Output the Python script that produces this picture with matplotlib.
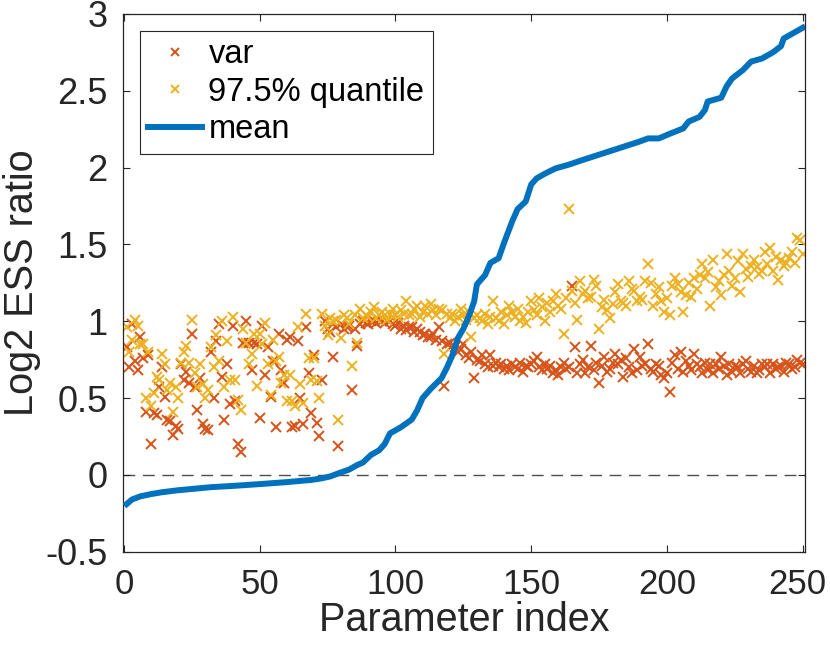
import matplotlib
matplotlib.use("Agg")
import matplotlib.pyplot as plt
import matplotlib.transforms as mtransforms
import numpy as np

plt.rcParams['font.family'] = ['Liberation Sans', 'DejaVu Sans']

# parameter index 1..250 (sorted by the mean ratio)
idx = np.arange(1, 251)

# log2 ESS ratio of the variance
var_ratio = [
    0.83, 0.70, 0.98, 0.74, 0.68, 0.90, 0.76, 0.41, 0.78, 0.20,
    0.40, 0.39, 0.57, 0.70, 0.51, 0.36, 0.35, 0.26, 0.32, 0.30,
    0.72, 0.62, 0.67, 0.60, 0.92, 0.57, 0.42, 0.63, 0.33, 0.30,
    0.29, 0.80, 0.50, 0.87, 0.98, 0.64, 0.36, 0.72, 0.46, 0.97,
    0.48, 0.20, 0.15, 0.86, 1.00, 0.86, 0.68, 0.86, 0.85, 0.37,
    0.97, 0.65, 0.83, 0.51, 0.74, 0.31, 0.92, 0.68, 0.60, 0.88,
    0.90, 0.31, 0.32, 0.87, 0.50, 0.33, 0.96, 0.66, 0.40, 0.78,
    0.34, 0.25, 0.62, 1.00, 0.95, 0.93, 0.77, 0.96, 0.19, 0.98,
    0.95, 0.96, 0.97, 0.55, 0.95, 0.84, 0.98, 1.00, 0.99, 0.98,
    1.00, 1.00, 0.99, 1.01, 1.00, 0.99, 1.01, 1.00, 0.98, 0.97,
    0.99, 0.95, 0.97, 0.94, 0.96, 0.96, 0.93, 0.95, 0.93, 0.91,
    0.92, 0.90, 0.90, 0.92, 0.88, 0.96, 0.87, 0.58, 0.85, 0.86,
    0.84, 0.83, 0.80, 0.82, 0.85, 0.78, 0.76, 0.80, 0.63, 0.75,
    0.74, 0.78, 0.72, 0.70, 0.78, 0.71, 0.73, 0.70, 0.72, 0.69,
    0.71, 0.68, 0.72, 0.70, 0.69, 0.73, 0.67, 0.71, 0.70, 0.72,
    0.74, 0.77, 0.70, 0.68, 0.72, 0.69, 0.71, 0.66, 0.68, 0.65,
    0.70, 0.73, 0.69, 0.70, 1.23, 0.83, 0.66, 0.72, 0.75, 0.66,
    0.70, 0.84, 0.68, 0.73, 0.60, 0.71, 0.77, 0.67, 0.69, 0.73,
    0.79, 0.72, 0.75, 0.64, 0.76, 0.70, 0.66, 0.82, 0.68, 0.77,
    0.71, 0.72, 0.85, 0.69, 0.67, 0.72, 0.71, 0.65, 0.63, 0.66,
    0.54, 0.73, 0.78, 0.69, 0.80, 0.67, 0.74, 0.71, 0.68, 0.79,
    0.72, 0.70, 0.66, 0.73, 0.68, 0.72, 0.66, 0.72, 0.69, 0.77,
    0.71, 0.65, 0.72, 0.67, 0.71, 0.70, 0.66, 0.72, 0.74, 0.69,
    0.67, 0.71, 0.66, 0.68, 0.72, 0.70, 0.72, 0.66, 0.72, 0.69,
    0.70, 0.71, 0.67, 0.73, 0.72, 0.69, 0.70, 0.75, 0.73, 0.72,
]

# log2 ESS ratio of the 97.5% quantile
q975_ratio = [
    0.96, 0.80, 0.88, 1.01, 0.97, 0.85, 0.85, 0.50, 0.80, 0.45,
    0.53, 0.64, 0.62, 0.79, 0.72, 0.55, 0.60, 0.41, 0.57, 0.50,
    0.73, 0.80, 0.84, 0.73, 1.01, 0.66, 0.57, 0.72, 0.59, 0.50,
    0.55, 0.83, 0.70, 0.91, 0.74, 1.00, 0.57, 0.87, 0.62, 1.03,
    0.62, 0.49, 0.42, 0.95, 0.86, 0.72, 0.79, 0.92, 0.58, 0.92,
    0.85, 0.99, 0.72, 0.52, 0.88, 0.74, 0.77, 0.60, 0.65, 0.48,
    0.65, 0.48, 0.45, 0.96, 0.59, 0.47, 1.05, 0.76, 0.62, 0.76,
    0.61, 0.50, 1.05, 0.97, 0.91, 1.02, 1.00, 1.01, 0.36, 0.89,
    1.04, 1.02, 0.98, 0.71, 1.04, 0.86, 1.08, 1.02, 1.04, 1.03,
    1.06, 1.09, 1.02, 1.04, 1.06, 1.04, 1.01, 1.05, 1.08, 1.04,
    1.03, 1.07, 1.05, 1.13, 1.04, 1.05, 1.08, 1.10, 1.03, 1.06,
    1.10, 1.05, 1.11, 1.07, 1.04, 1.08, 1.07, 0.79, 1.05, 1.02,
    1.05, 1.00, 1.03, 1.08, 1.04, 1.01, 1.06, 0.90, 1.02, 1.04,
    1.02, 1.00, 1.05, 0.98, 1.03, 1.13, 1.02, 1.00, 1.06, 0.98,
    1.04, 1.10, 1.06, 1.03, 1.08, 1.00, 1.03, 0.99, 1.06, 1.13,
    1.07, 1.04, 1.15, 1.09, 1.00, 1.12, 1.06, 1.13, 1.18, 1.10,
    1.08, 0.92, 1.15, 1.73, 1.20, 1.12, 1.01, 1.26, 1.18, 1.20,
    1.15, 1.16, 1.27, 1.23, 0.95, 1.09, 1.14, 1.07, 1.02, 1.11,
    1.19, 1.24, 1.13, 1.12, 1.10, 1.26, 1.21, 1.20, 1.13, 1.16,
    1.14, 1.26, 1.37, 1.25, 1.10, 1.18, 1.22, 1.13, 1.06, 1.15,
    1.04, 1.23, 1.28, 1.24, 1.19, 1.06, 1.17, 1.25, 1.16, 1.28,
    1.21, 1.30, 1.37, 1.28, 1.32, 1.10, 1.40, 1.22, 1.26, 1.17,
    1.30, 1.44, 1.33, 1.23, 1.28, 1.39, 1.19, 1.44, 1.34, 1.29,
    1.36, 1.40, 1.35, 1.31, 1.33, 1.45, 1.37, 1.48, 1.33, 1.42,
    1.27, 1.40, 1.36, 1.38, 1.41, 1.45, 1.38, 1.54, 1.53, 1.44,
]

# mean ratio, read at points along the curve
mean_idx = [1, 3, 6, 10, 14, 20, 26, 32, 40, 50, 60, 69, 73, 76, 79, 83,
            86, 88, 91, 94, 96, 98, 100, 102, 106, 108, 110, 113, 117, 119,
            121, 123, 125, 127, 129, 130, 133, 135, 138, 140, 143, 145, 148,
            150, 152, 155, 159, 164, 169, 176, 183, 190, 193, 197, 201, 206,
            208, 212, 214, 215, 220, 222, 224, 228, 231, 235, 239, 242, 243,
            246, 250]
mean_ratio = [-0.19, -0.16, -0.14, -0.125, -0.113, -0.10, -0.09, -0.08,
              -0.072, -0.06, -0.047, -0.033, -0.022, -0.01, 0.01, 0.035,
              0.065, 0.08, 0.13, 0.16, 0.20, 0.27, 0.29, 0.31, 0.36, 0.42,
              0.50, 0.56, 0.63, 0.70, 0.78, 0.89, 0.95, 1.03, 1.13, 1.24,
              1.30, 1.38, 1.41, 1.51, 1.65, 1.73, 1.78, 1.89, 1.93, 1.96,
              1.995, 2.02, 2.05, 2.09, 2.13, 2.17, 2.19, 2.19, 2.22, 2.255,
              2.30, 2.33, 2.375, 2.43, 2.455, 2.53, 2.58, 2.635, 2.69, 2.71,
              2.75, 2.79, 2.84, 2.87, 2.91]

yticks = [-0.5, 0, 0.5, 1, 1.5, 2, 2.5, 3]
ytick_labels = ['-0.5', '0', '0.5', '1', '1.5', '2', '2.5', '3']
xticks = [0, 50, 100, 150, 200, 250]

c_var = '#D95319'
c_q = '#EDB120'
c_mean = '#0072BD'
axcol = '#262626'

fig = plt.figure(figsize=(8.3, 6.47), dpi=100)
ax = fig.add_axes([0.148, 0.1473, 0.8217, 0.8311])

ax.axhline(0, color='#4d4d4d', linestyle=(0, (8.5, 5.5)), linewidth=1.0, zorder=1)
ax.plot(idx, var_ratio, 'x', color=c_var, markersize=7, mew=1.4, label='var', zorder=2)
ax.plot(idx, q975_ratio, 'x', color=c_q, markersize=7, mew=1.4, label='97.5% quantile', zorder=2)
ax.plot(mean_idx, mean_ratio, '-', color=c_mean, linewidth=4.3, label='mean', zorder=3)

ax.set_xlim(-0.4, 250.8)
ax.set_ylim(-0.5, 3)
ax.set_xticks(xticks)
ax.set_yticks(yticks)
ax.set_yticklabels(ytick_labels)
ax.tick_params(direction='in', length=5, width=0.8, colors=axcol,
               labelsize=26, top=True, right=True, labelcolor=axcol)
ax.tick_params(axis='x', labelsize=25, pad=12)
ax.tick_params(axis='y', pad=11)
for s in ax.spines.values():
    s.set_color(axcol)
    s.set_linewidth(0.9)

# keep the last x tick label inside the picture
last = ax.get_xticklabels()[-1]
last.set_transform(last.get_transform() +
                   mtransforms.ScaledTranslation(-4 / 72, 0, fig.dpi_scale_trans))

ax.set_xlabel('Parameter index', fontsize=28.5, color=axcol, labelpad=0)
ax.set_ylabel('Log2 ESS ratio', fontsize=28.5, color=axcol, labelpad=3)

leg = ax.legend(loc='upper left', bbox_to_anchor=(0.025, 0.968), borderaxespad=0,
                fontsize=23.5, fancybox=False, framealpha=1, edgecolor=axcol,
                handlelength=1.65, handletextpad=0.2, labelspacing=0.2,
                borderpad=0.25, markerscale=0.75)
leg.get_frame().set_linewidth(0.8)

fig.savefig('out.png', dpi=100)
